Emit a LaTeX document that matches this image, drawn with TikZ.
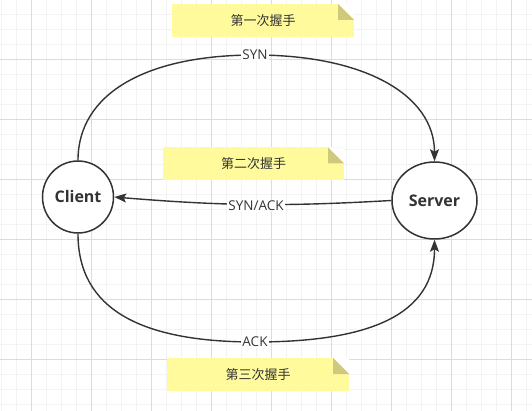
\documentclass[tikz,border=0pt]{standalone}
\usepackage{fontspec}
\setmainfont{Open Sans}
\newfontfamily\cjk{Noto Sans CJK SC}
\usetikzlibrary{arrows.meta}

\definecolor{inkgray}{HTML}{333333}
\definecolor{notefill}{HTML}{FFFA9C}
\definecolor{notefold}{HTML}{CFC97D}
\definecolor{gridmajor}{HTML}{DCDCDC}
\definecolor{gridminor}{HTML}{F3F3F3}

\newcommand{\backgrid}{
    \foreach \gx in {1,16,...,526}
        \draw[gridminor] (\gx,0) -- (\gx,411);
    \foreach \gy in {14,29,...,404}
        \draw[gridminor] (0,\gy) -- (532,\gy);
    \foreach \gx in {31,91,...,511}
        \draw[gridmajor] (\gx,0) -- (\gx,411);
    \foreach \gy in {59,119,...,359}
        \draw[gridmajor] (0,\gy) -- (532,\gy);
}
\tikzset{x=1pt, y=-1pt, every node/.append style={text=inkgray},
    peer/.style={draw=inkgray, line width=1.5pt, fill=white, ellipse,
        font=\bfseries\fontsize{16}{18}\selectfont, inner sep=0pt},
    msg/.style={draw=inkgray, line width=1.4pt,
        -{Stealth[length=12pt, width=9pt, inset=2.5pt]}},
    lbl/.style={fill=white, inner sep=1pt, font=\fontsize{13.5}{15}\selectfont},
    notebox/.style={fill=notefill, minimum width=182, minimum height=33,
        inner sep=0pt, font=\cjk\fontsize{13}{15}\selectfont,
        path picture={
            \fill[white] (path picture bounding box.north east)
                -- ++(-16,0) -- ++(16,16) -- cycle;
            \fill[notefold] (path picture bounding box.north east)
                ++(-16,0) -- ++(0,16) -- ++(16,0) -- cycle;
        }}}

\usetikzlibrary{shapes.geometric}

\begin{document}
\begin{tikzpicture}
    \useasboundingbox (0,0) rectangle (532,411);
    \backgrid

    % the two ends
    \node[peer, minimum width=71, minimum height=72] (client) at (78,197) {Client};
    \node[peer, minimum width=85, minimum height=77] (server) at (434.5,200.5) {Server};

    % notes
    \node[notebox] (hand1) at (263,20.5) {第一次握手};
    \node[notebox, minimum width=181] (hand2) at (253.5,164) {第二次握手};
    \node[notebox] (hand3) at (258,374.5) {第三次握手};

    \coordinate (synpt) at (255,55);
    \coordinate (ackpt) at (255,342);

    % handshake messages
    \draw[msg] (client.north) .. controls +(0,-66) and +(-110,0) .. (synpt)
        .. controls +(110,0) and +(0,-66) .. (server.north);
    \draw[msg] (server.west) to[bend left=4] (client.east);
    \draw[msg] (client.south) .. controls +(0,75) and +(-115,0) .. (ackpt)
        .. controls +(115,0) and +(0,75) .. (server.south);

    \node[lbl] (synlbl) at (synpt) {SYN};
    \node[lbl] (sacklbl) at (256,206) {SYN/ACK};
    \node[lbl] (acklbl) at (ackpt) {ACK};
\end{tikzpicture}
\end{document}
